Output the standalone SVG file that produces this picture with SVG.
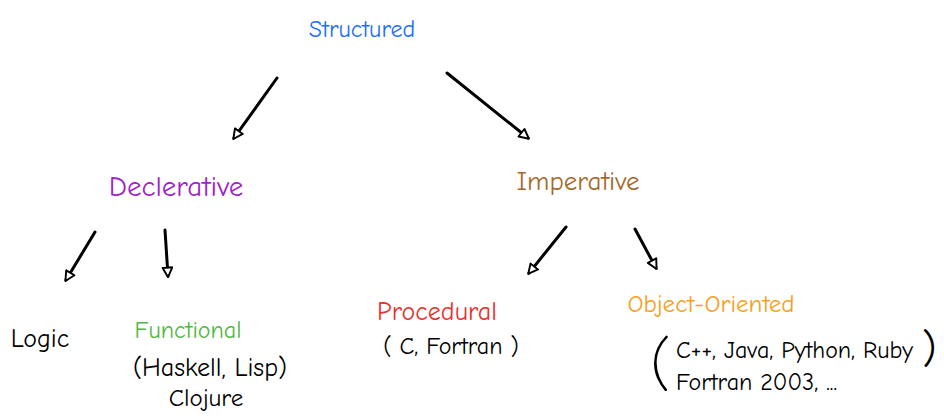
<svg xmlns="http://www.w3.org/2000/svg" width="944" height="418" viewBox="0 0 944 418">
<style>
text{font-family:"Comic Neue","Liberation Sans",sans-serif;font-size:23px}
.blk{fill:#000}
.conn line{stroke:#000;stroke-width:3;stroke-linecap:round;marker-end:url(#ah)}
</style>
<defs>
<marker id="ah" viewBox="0 0 10 10" refX="8" refY="5" markerWidth="4" markerHeight="4" orient="auto" markerUnits="strokeWidth">
<path d="M1,1 L9,5 L1,9 Z" fill="#fff" stroke="#000" stroke-width="1.6" stroke-linejoin="round"/>
</marker>
</defs>
<rect width="944" height="418" fill="#fff"/>
<g id="connectors" class="conn">
<line x1="277" y1="78" x2="234" y2="138"/>
<line x1="447" y1="73" x2="528" y2="138"/>
<line x1="95" y1="232" x2="66" y2="280"/>
<line x1="165" y1="230" x2="168" y2="276"/>
<line x1="566" y1="227" x2="529" y2="273"/>
<line x1="635" y1="229" x2="656" y2="268"/>
</g>
<g id="structured"><text x="362" y="37" text-anchor="middle" fill="#1d6ff2" style="font-size:24px">Structured</text></g>
<g id="declarative"><text x="176" y="196" text-anchor="middle" fill="#a11fc9" style="font-size:29px">Declerative</text></g>
<g id="imperative"><text x="578" y="190" text-anchor="middle" fill="#a5692c" style="font-size:27px">Imperative</text></g>
<g id="logic"><text x="40" y="347" text-anchor="middle" class="blk" style="font-size:26px">Logic</text></g>
<g id="functional">
<text x="188" y="338" text-anchor="middle" fill="#52b83e" style="font-size:24px">Functional</text>
<text x="210" y="376" text-anchor="middle" class="blk" style="font-size:26px">(Haskell, Lisp)</text>
<text x="206" y="406" text-anchor="middle" class="blk" style="font-size:25px">Clojure</text>
</g>
<g id="procedural">
<text x="437" y="320" text-anchor="middle" fill="#e8302a" style="font-size:26px">Procedural</text>
<text x="451" y="354" text-anchor="middle" class="blk" style="font-size:24px">( C, Fortran )</text>
</g>
<g id="object-oriented">
<text x="711" y="312" text-anchor="middle" fill="#f4a11b" style="font-size:25px">Object-Oriented</text>
<text x="650" y="384" class="blk" style="font-size:60px;font-weight:300">(</text>
<text x="676" y="358" class="blk" style="font-size:24px">C++, Java, Python, Ruby</text>
<text x="922" y="362" class="blk" style="font-size:42px">)</text>
<text x="676" y="390" class="blk" style="font-size:24px">Fortran 2003, ...</text>
</g>
</svg>
